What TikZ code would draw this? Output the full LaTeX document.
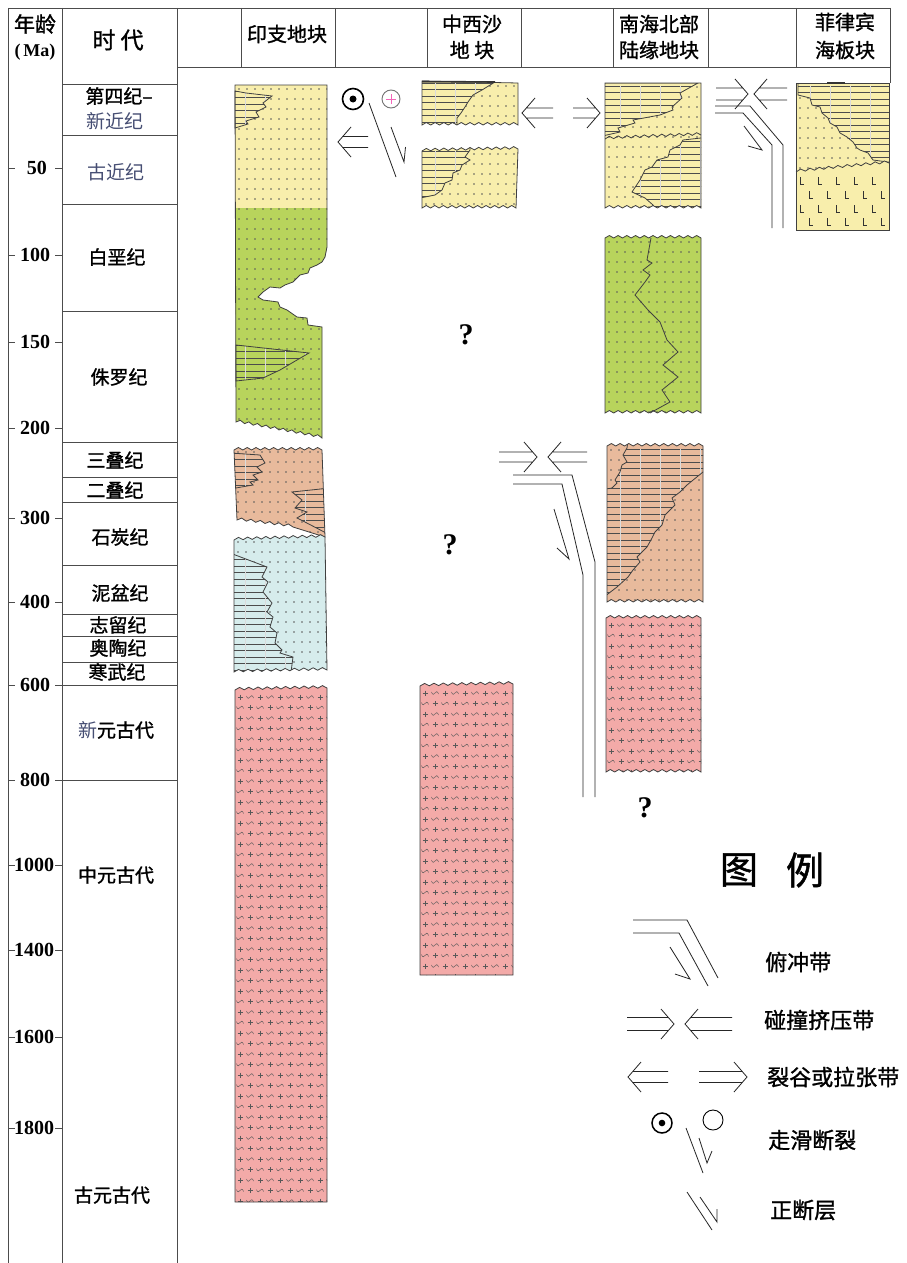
\documentclass[tikz,border=0pt]{standalone}
\usepackage{fontspec}
\setmainfont{Liberation Serif}
\newfontfamily\cjk{Noto Sans CJK SC}
\newfontfamily\cjkb[FakeBold=1.2]{Noto Sans CJK SC}
\definecolor{cyel}{RGB}{248,238,172}
\definecolor{cgrn}{RGB}{184,212,92}
\definecolor{cbrn}{RGB}{232,186,156}
\definecolor{cblu}{RGB}{214,236,236}
\definecolor{cred}{RGB}{243,170,168}
\definecolor{cblt}{RGB}{70,78,115}
\newcommand\fs[1]{\fontsize{#1}{#1}\selectfont}
% wavy edge from current point (#1,#2) to (#3,#4) in #5 teeth
\newcommand\wv[5]{\foreach \k in {1,...,#5} { -- ({#1+(#3-#1)*(\k-0.5)/#5},{#2+(#4-#2)*(\k-0.5)/#5-2.5}) -- ({#1+(#3-#1)*\k/#5},{#2+(#4-#2)*\k/#5}) }}
\newcommand\dotgrid[4]{\foreach \i in {0,...,#3}{\foreach \j in {0,...,#4}{\fill[black!65] ({#1+\i*8},{#2+\j*10}) circle (0.8);}}}
\newcommand\hatchl[5]{\foreach \j in {0,...,#4}{\draw[hl] (#1,{#3+\j*6.5}) -- (#2,{#3+\j*6.5});}\foreach \i in {0,...,#5}{\draw[vl] ({#1+\i*20},#3) -- ({#1+\i*20},{#3+#4*6.5});}}
\newcommand\plusat[2]{\draw[sym] ({#1-2.5},{#2}) -- ({#1+2.5},{#2}) ({#1},{#2-2.5}) -- ({#1},{#2+2.5});}
\newcommand\waveat[2]{\draw[sym] ({#1-3.5},{#2-1}) .. controls ({#1-2.5},{#2+2}) and ({#1-1},{#2+2}) .. ({#1},{#2}) .. controls ({#1+1},{#2-2}) and ({#1+2.5},{#2-2}) .. ({#1+3.5},{#2+1});}
\newcommand\granite[4]{\foreach \r in {0,...,#4}{\foreach \c in {0,...,#3}{\plusat{#1+\c*20}{#2+\r*21}\waveat{#1+10+\c*20}{#2+\r*21}\waveat{#1+\c*20}{#2+10.5+\r*21}\plusat{#1+10+\c*20}{#2+10.5+\r*21}}}}
\newcommand\Lsym[2]{\draw[black!80,line width=0.7pt] ({#1},{#2-4}) -- ({#1},{#2+3}) -- ({#1+4},{#2+3});}
\newcommand\rarr[4]{\draw[arr] (#3,{#2-#4}) -- ({#1-0.87*#4},{#2-#4}) (#3,{#2+#4}) -- ({#1-0.87*#4},{#2+#4}) ({#1-13},{#2-15}) -- (#1,#2) -- ({#1-13},{#2+15});}
\newcommand\larr[4]{\draw[arr] (#3,{#2-#4}) -- ({#1+0.87*#4},{#2-#4}) (#3,{#2+#4}) -- ({#1+0.87*#4},{#2+#4}) ({#1+13},{#2-15}) -- (#1,#2) -- ({#1+13},{#2+15});}
% ---- block outlines
\def\pICy{(235,85) -- (327,85) -- (327,208) -- (235,208) -- cycle}
\def\pICg{(235,208) -- (327,208) -- (327,247) -- (325,257) -- (322,262) -- (317,265) -- (310,268) -- (308,273) -- (300,275) -- (293,282) -- (285,285) -- (280,288) -- (270,287) -- (263,292) -- (258,297) -- (263,300) -- (278,302) -- (280,307) -- (287,310) -- (297,317) -- (307,318) -- (308,325) -- (322,327) -- (322,438) \wv{322}{438}{236}{422}{10} -- cycle}
\def\pICo{(235,85) -- (327,85) -- (327,247) -- (325,257) -- (322,262) -- (317,265) -- (310,268) -- (308,273) -- (300,275) -- (293,282) -- (285,285) -- (280,288) -- (270,287) -- (263,292) -- (258,297) -- (263,300) -- (278,302) -- (280,307) -- (287,310) -- (297,317) -- (307,318) -- (308,325) -- (322,327) -- (322,438) \wv{322}{438}{236}{422}{10} -- cycle}
\def\hICy{(235,91) -- (246,93) -- (272,96) -- (263,103) -- (266,107) -- (256,112) -- (259,117) -- (246,121) -- (248,124) -- (235,128) -- cycle}
\def\hICg{(236,345) -- (309,353) -- (297,360) -- (280,370) -- (263,378) -- (236,381) -- cycle}
\def\pICb{(234,450) \wv{234}{450}{322}{450}{10} -- (325,537) -- (293,527) \wv{293}{527}{237}{520}{6} -- cycle}
\def\hICba{(230,453) -- (260,455) -- (265,463) -- (257,467) -- (262,472) -- (253,475) -- (258,480) -- (250,482) -- (253,485) -- (230,489) -- cycle}
\def\hICbb{(330,488) -- (292,492) -- (302,500) -- (295,508) -- (307,512) -- (297,518) -- (303,521) -- (330,535) -- cycle}
\def\pICl{(234,540) \wv{234}{540}{325}{537}{10} -- (327,670) \wv{327}{670}{234}{672}{10} -- cycle}
\def\hICl{(230,553) -- (267,567) -- (262,577) -- (268,582) -- (263,592) -- (272,603) -- (267,612) -- (273,617) -- (270,627) -- (277,633) -- (275,643) -- (282,650) -- (280,653) -- (293,657) -- (290,680) -- (230,680) -- cycle}
\def\pICr{(235,690) \wv{235}{690}{327}{688}{10} -- (327,1202) -- (235,1202) -- cycle}
\def\pCXa{(422,81) -- (518,83) -- (518,125) \wv{518}{125}{422}{125}{11} -- cycle}
\def\hCXa{(415,82) -- (495,82) -- (482,90) -- (473,95) -- (468,102) -- (465,107) -- (461,113) -- (457,118) -- (457,135) -- (415,135) -- cycle}
\def\pCXb{(422,151) \wv{422}{151}{518}{149}{11} -- (516,208) \wv{516}{208}{422}{208}{11} -- cycle}
\def\hCXb{(415,140) -- (470,140) -- (470,150) -- (465,157) -- (470,160) -- (462,165) -- (460,170) -- (453,173) -- (452,180) -- (445,183) -- (442,190) -- (435,195) -- (415,199) -- cycle}
\def\pCXr{(420,686) \wv{420}{686}{513}{684}{10} -- (513,975) -- (420,975) -- cycle}
\def\pSCy{(605,83) -- (701,83) -- (701,208) \wv{701}{208}{605}{208}{11} -- cycle}
\def\hSCu{(605,83) -- (698,83) -- (680,93) -- (682,98) -- (672,107) -- (673,110) -- (660,115) -- (633,120) -- (635,123) -- (618,128) -- (620,132) -- (598,137) -- (598,83) -- cycle}
\def\hSCl{(710,137) -- (683,140) -- (680,145) -- (670,150) -- (668,157) -- (657,160) -- (652,167) -- (645,170) -- (640,180) -- (632,192) -- (645,198) -- (653,205) -- (657,215) -- (710,215) -- cycle}
\def\pSCg{(605,238) \wv{605}{238}{701}{238}{11} -- (701,413) \wv{701}{413}{605}{413}{11} -- cycle}
\def\pSCb{(607,446) \wv{607}{446}{703}{446}{11} -- (703,602) \wv{703}{602}{607}{602}{11} -- cycle}
\def\hSCb{(628,440) -- (710,440) -- (710,472) -- (703,472) -- (687,485) -- (680,492) -- (672,498) -- (675,505) -- (665,515) -- (662,525) -- (655,532) -- (652,538) -- (647,547) -- (637,557) -- (640,562) -- (633,570) -- (628,577) -- (617,587) -- (600,600) -- (600,490) -- (612,488) -- (617,483) -- (615,480) -- (620,472) -- (622,465) -- (627,462) -- (623,455) -- (627,448) -- cycle}
\def\pSCr{(606,618) \wv{606}{618}{701}{618}{11} -- (701,772) \wv{701}{772}{606}{772}{11} -- cycle}
\def\pPHu{(796,83) -- (889,83) -- (889,163) \wv{889}{163}{796}{172}{10} -- cycle}
\def\hPH{(800,78) -- (895,78) -- (895,163) -- (873,160) -- (868,153) -- (860,150) -- (857,148) -- (853,142) -- (847,137) -- (840,133) -- (837,127) -- (830,123) -- (828,118) -- (822,113) -- (820,107) -- (812,105) -- (810,98) -- (798,95) -- (798,83) -- cycle}
\begin{document}
\begin{tikzpicture}[x=1pt,y=-1pt,
  edge/.style={draw=black!75,line width=0.8pt},
  hl/.style={draw=black!70,line width=0.5pt},
  vl/.style={draw=black!14,line width=0.3pt},
  sym/.style={draw=black!65,line width=0.45pt},
  frame/.style={draw=black!70,line width=0.9pt},
  arr/.style={draw=black!85,line width=0.8pt},
  hd/.style={font=\cjkb\fs{20},inner sep=0pt},
  era/.style={font=\cjkb\fs{19},inner sep=0pt},
  erl/.style={font=\cjk\fs{19},inner sep=0pt,text=cblt},
  num/.style={font=\bfseries\fs{20},inner sep=0pt},
  leg/.style={font=\cjkb\fs{22},inner sep=0pt,anchor=west},
  qm/.style={font=\bfseries\fs{30},inner sep=0pt}]
\useasboundingbox (0,0) rectangle (907,1263);
\fill[white] (0,0) rectangle (907,1263);
% ================= Indochina =================
\fill[cyel] \pICy;
\fill[cgrn] \pICg;
\begin{scope}\clip \pICo; \dotgrid{239}{89}{11}{35}; \end{scope}
\begin{scope}\clip \hICy; \fill[cyel] (220,80) rectangle (340,140); \hatchl{225}{335}{91}{6}{5}; \end{scope}
\draw[edge] \hICy;
\begin{scope}\clip \hICg; \fill[cgrn] (220,340) rectangle (340,390); \hatchl{225}{335}{345}{6}{5}; \end{scope}
\draw[edge] \hICg;
\draw[edge] \pICo;
\fill[cbrn] \pICb;
\begin{scope}\clip \pICb; \dotgrid{238}{452}{11}{9};
  \begin{scope}\clip \hICba; \fill[cbrn] (220,440) rectangle (340,540); \hatchl{225}{335}{453}{6}{5}; \end{scope}
  \begin{scope}\clip \hICbb; \fill[cbrn] (220,440) rectangle (340,540); \hatchl{225}{335}{488}{7}{5}; \end{scope}
  \draw[edge] \hICba; \draw[edge] \hICbb;
\end{scope}
\draw[edge] \pICb;
\fill[cblu] \pICl;
\begin{scope}\clip \pICl; \dotgrid{238}{542}{11}{13};
  \begin{scope}\clip \hICl; \fill[cblu] (220,530) rectangle (340,690); \hatchl{225}{335}{553}{19}{5}; \end{scope}
  \draw[edge] \hICl;
\end{scope}
\draw[edge] \pICl;
\fill[cred] \pICr;
\begin{scope}\clip \pICr; \granite{240}{697}{4}{24}; \end{scope}
\draw[edge] \pICr;
% ================= Central Xisha =================
\fill[cyel] \pCXa;
\begin{scope}\clip \pCXa; \dotgrid{426}{86}{12}{4};
  \begin{scope}\clip \hCXa; \fill[cyel] (410,70) rectangle (530,140); \hatchl{415}{525}{83}{7}{6}; \end{scope}
  \draw[edge] \hCXa;
\end{scope}
\draw[edge] \pCXa;
\draw[line width=1.6pt,black!80] (422,81.5) -- (495,82);
\fill[cyel] \pCXb;
\begin{scope}\clip \pCXb; \dotgrid{426}{154}{12}{6};
  \begin{scope}\clip \hCXb; \fill[cyel] (410,140) rectangle (530,215); \hatchl{415}{525}{151}{7}{6}; \end{scope}
  \draw[edge] \hCXb;
\end{scope}
\draw[edge] \pCXb;
\fill[cred] \pCXr;
\begin{scope}\clip \pCXr; \granite{425}{693}{4}{13}; \end{scope}
\draw[edge] \pCXr;
% ================= N South China Sea margin =================
\fill[cyel] \pSCy;
\begin{scope}\clip \pSCy; \dotgrid{609}{87}{12}{12};
  \begin{scope}\clip \hSCu; \fill[cyel] (595,75) rectangle (710,220); \hatchl{600}{710}{86}{8}{6}; \end{scope}
  \begin{scope}\clip (595,137) rectangle (715,220); \clip \hSCl; \fill[cyel] (595,75) rectangle (715,220); \hatchl{600}{710}{141}{10}{6}; \end{scope}
  \draw[edge] \hSCu; \draw[edge] \hSCl;
  \draw[edge] (605,139) \wv{605}{139}{701}{135}{11};
\end{scope}
\draw[edge] \pSCy;
\fill[cgrn] \pSCg;
\begin{scope}\clip \pSCg; \dotgrid{609}{242}{12}{17}; \end{scope}
\draw[edge] (651,238) -- (647,260) -- (652,263) -- (643,270) -- (650,275) -- (645,282) -- (635,295) -- (648,310) -- (660,322) -- (667,340) -- (678,352) -- (663,365) -- (678,377) -- (662,390) -- (670,402) -- (650,413);
\draw[edge] \pSCg;
\fill[cbrn] \pSCb;
\begin{scope}\clip \pSCb; \dotgrid{611}{450}{12}{15};
  \begin{scope}\clip \hSCb; \fill[cbrn] (595,435) rectangle (715,610); \hatchl{600}{710}{449}{24}{6}; \end{scope}
  \draw[edge] \hSCb;
\end{scope}
\draw[edge] \pSCb;
\fill[cred] \pSCr;
\begin{scope}\clip \pSCr; \granite{611}{625}{4}{7}; \end{scope}
\draw[edge] \pSCr;
% ================= Philippine Sea plate =================
\fill[cyel] (796,83) rectangle (889,230);
\begin{scope}\clip \pPHu; \dotgrid{800}{88}{11}{8};
  \begin{scope}\clip \hPH; \fill[cyel] (790,75) rectangle (895,175); \hatchl{790}{895}{86}{13}{5}; \end{scope}
  \draw[edge] \hPH;
\end{scope}
\draw[edge] (889,163) \wv{889}{163}{796}{172}{10};
\foreach \xx in {800,818,836,854,872} {\Lsym{\xx}{181}\Lsym{\xx}{209}}
\foreach \xx in {809,827,845,863,881} {\Lsym{\xx}{195}\Lsym{\xx}{222}}
\draw[edge] (796,83) rectangle (889,230);
\draw[line width=2pt,black!80] (827,83) -- (845,83);
% ================= frame =================
\draw[frame] (8,8) -- (890,8);
\draw[frame] (8,8) -- (8,1263);
\draw[frame] (62,8) -- (62,1263);
\draw[frame] (177,8) -- (177,1263);
\draw[frame] (62,84) -- (177,84);
\draw[frame] (177,67) -- (890,67);
\foreach \xx in {241,335,427,521,613,708,796} {\draw[frame] (\xx,8) -- (\xx,67);}
\draw[frame] (890,8) -- (890,83);
\foreach \yy in {135,204,311,442,477,502,565,614,636,662,685,780} {\draw[frame] (62,\yy) -- (177,\yy);}
\foreach \yy in {168,255,342,428,518,602,685,780,865,950,1037,1128} {\draw[frame] (8,\yy) -- (15,\yy) (55,\yy) -- (62,\yy);}
% header texts
\node[hd,font=\cjkb\fs{21}] (hA) at (35,24) {年龄};
\node[num,font=\bfseries\fs{18}] (hB) at (35,52) {(\,Ma)};
\node[hd,font=\cjkb\fs{23}] (hC) at (118,40) {时\ 代};
\node[hd] (hD) at (287,34) {印支地块};
\node[hd] (hE1) at (472,24) {中西沙};
\node[hd] (hE2) at (472,50) {地\ 块};
\node[hd] (hF1) at (659,24) {南海北部};
\node[hd] (hF2) at (659,50) {陆缘地块};
\node[hd] (hG1) at (845,22) {菲律宾};
\node[hd] (hG2) at (845,50) {海板块};
% age numbers
\node[num] (n50) at (37,168) {50};
\node[num] (n100) at (35,255) {100};
\node[num] (n150) at (35,342) {150};
\node[num] (n200) at (35,428) {200};
\node[num] (n300) at (35,518) {300};
\node[num] (n400) at (35,602) {400};
\node[num] (n600) at (35,685) {600};
\node[num] (n800) at (35,780) {800};
\node[num] (n1000) at (34,865) {1000};
\node[num] (n1400) at (34,950) {1400};
\node[num] (n1600) at (34,1037) {1600};
\node[num] (n1800) at (34,1128) {1800};
% eras
\node[era] (e1) at (119,96) {第四纪–};
\node[erl] (e2) at (115,121) {新近纪};
\node[erl] (e3) at (116,172) {古近纪};
\node[era] (e4) at (117,257) {白垩纪};
\node[era] (e5) at (119,377) {侏罗纪};
\node[era] (e6) at (115,460) {三叠纪};
\node[era] (e7) at (115,490) {二叠纪};
\node[era] (e8) at (120,537) {石炭纪};
\node[era] (e9) at (120,593) {泥盆纪};
\node[era] (e10) at (118,625) {志留纪};
\node[era] (e11) at (118,648) {奥陶纪};
\node[era] (e12) at (117,672) {寒武纪};
\node[era] (e13) at (116,730) {{\cjk\color{cblt}新}元古代};
\node[era] (e14) at (116,875) {中元古代};
\node[era] (e15) at (112,1195) {古元古代};
% question marks
\node[qm] (q1) at (466,335) {?};
\node[qm] (q2) at (450,545) {?};
\node[qm] (q3) at (645,808) {?};
% ================= tectonic symbols =================
\draw[line width=1.6pt] (353,99) circle (10.5);
\fill (353,99) circle (3.5);
\draw[black!55,line width=0.9pt] (391,99) circle (9);
\draw[magenta!60,line width=0.8pt] (386,99) -- (396,99) (391,94) -- (391,104);
\larr{338}{142}{368}{5.5}
\draw[arr] (369,103) -- (396,177);
\draw[arr] (391,127) -- (404,162) -- (405.5,147);
\larr{522}{113}{553}{5}
\rarr{600}{113}{573}{5}
% Philippine side
\rarr{748}{94}{716}{6}
\larr{754}{94}{787}{6}
\draw[arr] (715,106) -- (750,106) -- (783,145) -- (783,228);
\draw[arr] (715,113) -- (743,113) -- (772,145) -- (772,228);
\draw[arr] (744,126) -- (762,150) -- (748,146);
% South China margin subduction
\rarr{537}{457}{499}{5}
\larr{548}{457}{587}{5}
\draw[arr] (513,475) -- (572,475) -- (595,562) -- (595,797);
\draw[arr] (513,484) -- (562,484) -- (583,575) -- (583,797);
\draw[arr] (554,509) -- (569,559) -- (557,548);
% ================= legend =================
\node[font=\cjkb\fs{38},inner sep=0pt] (lg1) at (739,870) {图};
\node[font=\cjkb\fs{38},inner sep=0pt] (lg2) at (805,870) {例};
\draw[arr] (633,920) -- (687,920) -- (718,978);
\draw[arr] (633,933) -- (679,933) -- (708,986);
\draw[arr] (670,947) -- (690,979) -- (675,974);
\node[leg] (l1) at (765,962) {俯冲带};
\rarr{674}{1024}{627}{6.5}
\larr{685}{1024}{732}{6.5}
\node[leg] (l2) at (764,1020) {碰撞挤压带};
\larr{628}{1077}{668}{5.5}
\rarr{747}{1077}{699}{5.5}
\node[leg] (l3) at (767,1077) {裂谷或拉张带};
\draw[line width=1.5pt] (662,1123) circle (10);
\fill (662,1123) circle (3.3);
\draw[line width=0.9pt] (713,1120) circle (10);
\draw[arr] (686,1128) -- (703,1173);
\draw[arr] (699,1138) -- (707,1163) -- (712,1151);
\node[leg] (l4) at (768,1140) {走滑断裂};
\draw[arr] (687,1192) -- (712,1230);
\draw[arr] (700,1197) -- (717,1222) -- (717,1209);
\node[leg] (l5) at (770,1210) {正断层};
\end{tikzpicture}
\end{document}
